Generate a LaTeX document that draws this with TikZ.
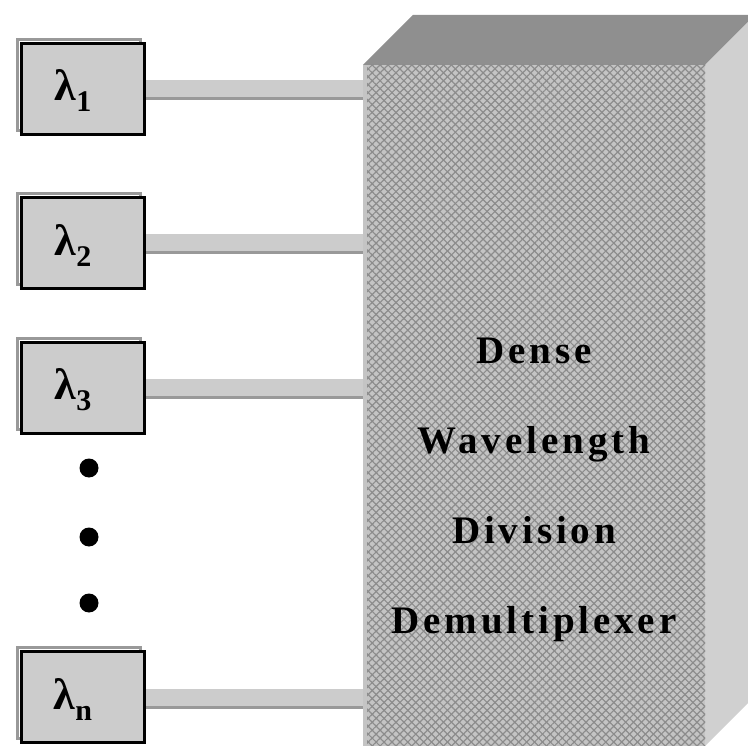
\documentclass[tikz,border=0pt]{standalone}
\usepackage{fontspec}
\setmainfont{Liberation Serif}
\usetikzlibrary{patterns.meta}
\definecolor{boxgray}{HTML}{CCCCCC}
\definecolor{shadowgray}{HTML}{999999}
\definecolor{topgray}{HTML}{8F8F8F}
\definecolor{sidegray}{HTML}{D0D0D0}
\definecolor{frontgray}{HTML}{C4C4C4}
\definecolor{hatchgray}{HTML}{8C8C8C}
\tikzset{
  lambdabox/.style={draw=black, line width=3pt, fill=boxgray, minimum width=123pt, minimum height=91pt, inner sep=0pt,
    preaction={draw=shadowgray, line width=3pt, transform canvas={shift={(-4pt,4pt)}}}},
  lambdalabel/.style={font=\bfseries\fontsize{44}{44}\selectfont, inner sep=0pt},
  fibre/.style={draw=boxgray, line width=17pt},
  fibreshade/.style={draw=shadowgray, line width=3pt},
  dot/.style={circle, fill=black, minimum size=19pt, inner sep=0pt},
  demuxtext/.style={font=\bfseries\fontsize{39}{90}\selectfont\addfontfeature{LetterSpace=10}, align=center, inner sep=0pt},
}
\newcommand{\wl}[1]{λ\raisebox{-11pt}{\fontsize{30}{30}\selectfont #1}}
\begin{document}
\begin{tikzpicture}[x=1pt, y=-1pt]
  \useasboundingbox (0,0) rectangle (748,746);
  \clip (0,0) rectangle (748,746);
  % the demultiplexer block
  \fill[topgray]  (363,65) -- (413,15) -- (755,15) -- (705,65) -- cycle;
  \fill[sidegray] (705,65) -- (755,15) -- (755,696) -- (705,746) -- cycle;
  \node [minimum width=342pt, minimum height=681pt, inner sep=0pt, fill=frontgray, anchor=north west] (front) at (363,65) {};
  \fill[pattern={Lines[angle=45, distance=5.6pt, line width=1.2pt]}, pattern color=hatchgray] (367,65) rectangle (705,746);
  \fill[pattern={Lines[angle=-45, distance=5.6pt, line width=1.2pt]}, pattern color=hatchgray] (367,65) rectangle (705,746);
  \node [demuxtext] (demux) at (534,490) {Dense\\Wavelength\\Division\\Demultiplexer};
  % the wavelength channels
  \node [lambdabox] (b1) at (83,89)  {};
  \node [lambdabox] (b2) at (83,243) {};
  \node [lambdabox] (b3) at (83,388) {};
  \node [lambdabox] (bn) at (83,697) {};
  \node [lambdalabel] (l1) at (73,91)  {\wl{1}};
  \node [lambdalabel] (l2) at (73,246) {\wl{2}};
  \node [lambdalabel] (l3) at (73,390) {\wl{3}};
  \node [lambdalabel] (ln) at (73,700) {\wl{n}};
  \foreach \b in {b1,b2,b3,bn} {
    \draw[fibreshade] ([yshift=-10pt]\b.east) -- ([yshift=-10pt]\b.east -| front.west);
    \draw[fibre] (\b.east) -- (\b.east -| front.west);
  }
  \node [dot] (d1) at (89,468) {};
  \node [dot] (d2) at (89,537) {};
  \node [dot] (d3) at (89,603) {};
\end{tikzpicture}
\end{document}
